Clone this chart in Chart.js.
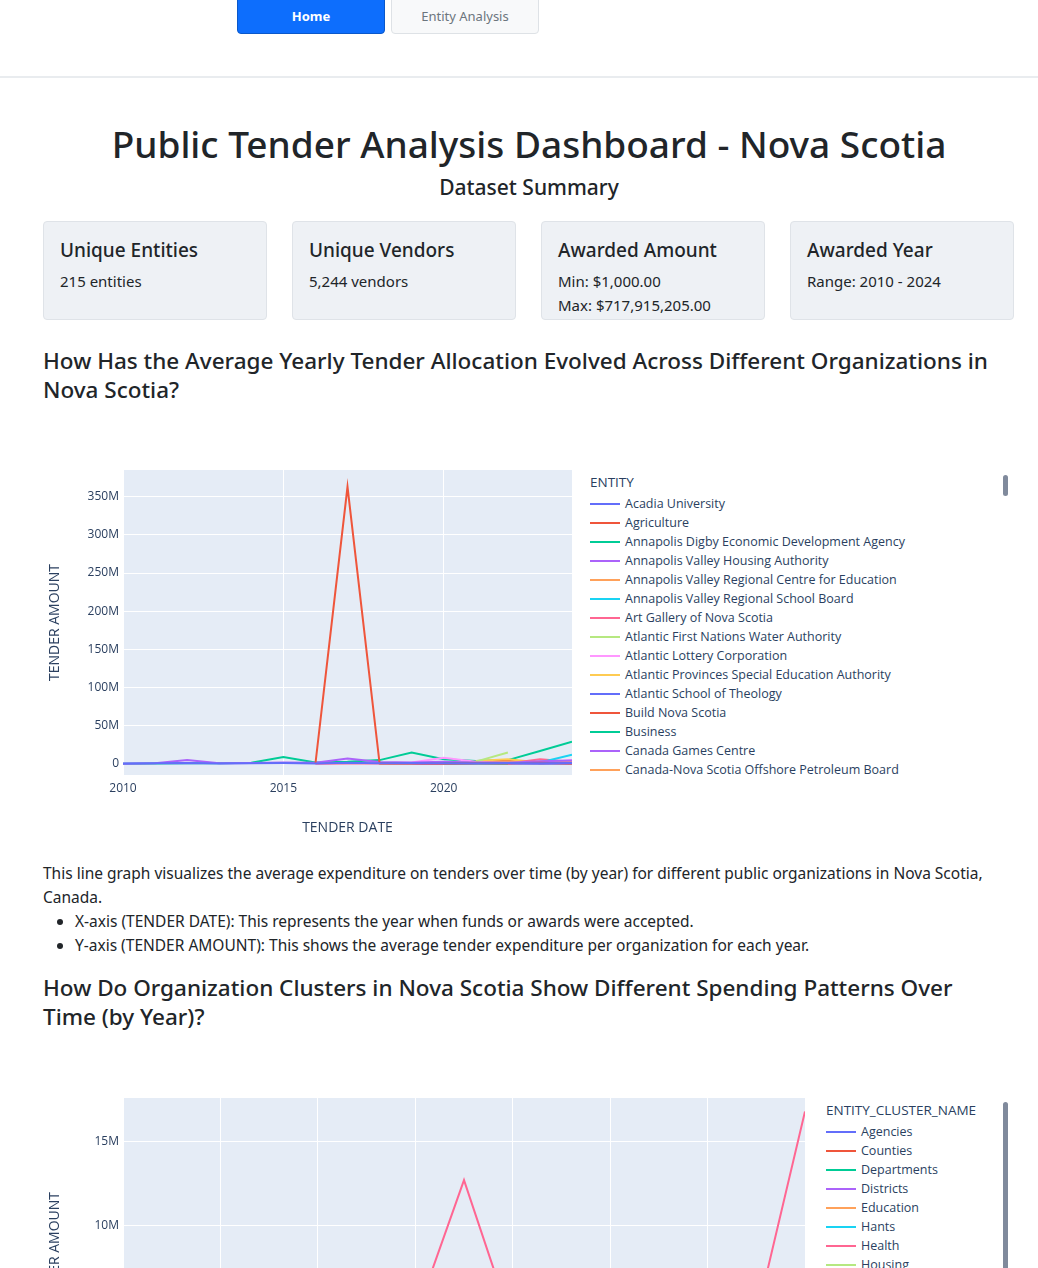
<!DOCTYPE html>
<html>
<head>
<meta charset="utf-8">
<script src="https://cdn.jsdelivr.net/npm/chart.js@4"></script>
<style>
  body { margin: 0; font-family: "Noto Sans", "Open Sans", sans-serif; color: #212529; background: #fff; width: 1038px; overflow: hidden; }
  .nav { height: 76px; border-bottom: 2px solid #e9ecef; position: relative; }
  .btn { position: absolute; top: -2px; height: 36px; width: 148px; border-radius: 0 0 4px 4px; font-size: 13px; display: flex; align-items: center; justify-content: center; box-sizing: border-box; }
  .btn.home { left: 237px; background: #0d6efd; color: #fff; font-weight: bold; border: 1px solid #0a58ca; }
  .btn.ent { left: 391px; background: #f8f9fa; color: #6c757d; border: 1px solid #dee2e6; }
  h1 { position: absolute; top: 118px; left: 0; width: 1058px; text-align: center; margin: 0; font-size: 37px; font-weight: 500; }
  .sub { position: absolute; top: 173px; left: 0; width: 1058px; text-align: center; font-size: 21px; font-weight: 500; }
  .card { position: absolute; top: 221px; width: 224px; height: 99px; background: #eef1f5; border: 1px solid #dfe3e8; border-radius: 4px; box-sizing: border-box; padding: 15px 16px; }
  .card b { display: block; font-size: 19px; font-weight: 500; margin-bottom: 6px; }
  .card div { font-size: 15px; line-height: 24px; }
  h3 { position: absolute; left: 43px; margin: 0; font-size: 22.5px; font-weight: 500; line-height: 29px; width: 950px; }
  .legend { position: absolute; font-family: "Open Sans", sans-serif; font-size: 12.5px; color: #2a3f5f; }
  .legend .t { font-size: 13.5px; margin-bottom: 3px; }
  .legend .i { height: 19px; display: flex; align-items: center; }
  .legend .i span { display: inline-block; width: 30px; height: 2px; margin-right: 5px; }
  .scroll { position: absolute; left: 1003px; width: 5px; background: #808a9c; border-radius: 3px; }
  .desc { position: absolute; top: 861px; left: 43px; width: 960px; font-size: 15.5px; line-height: 24px; }
  .desc ul { margin: 0; padding-left: 32px; }
  canvas { position: absolute; }
</style>
</head>
<body>
<div class="nav">
  <div class="btn home">Home</div>
  <div class="btn ent">Entity Analysis</div>
</div>
<h1>Public Tender Analysis Dashboard - Nova Scotia</h1>
<div class="sub">Dataset Summary</div>
<div class="card" style="left:43px"><b>Unique Entities</b><div>215 entities</div></div>
<div class="card" style="left:292px"><b>Unique Vendors</b><div>5,244 vendors</div></div>
<div class="card" style="left:541px"><b>Awarded Amount</b><div>Min: $1,000.00<br>Max: $717,915,205.00</div></div>
<div class="card" style="left:790px"><b>Awarded Year</b><div>Range: 2010 - 2024</div></div>

<h3 style="top:346px">How Has the Average Yearly Tender Allocation Evolved Across Different Organizations in Nova Scotia?</h3>
<canvas id="chart1" style="left:43px;top:440px"></canvas>
<div class="legend" id="legend1" style="left:590px;top:473px"></div>
<div class="scroll" style="top:475px;height:21px"></div>

<div class="desc">This line graph visualizes the average expenditure on tenders over time (by year) for different public organizations in Nova Scotia, Canada.
<ul>
  <li>X-axis (TENDER DATE): This represents the year when funds or awards were accepted.</li>
  <li>Y-axis (TENDER AMOUNT): This shows the average tender expenditure per organization for each year.</li>
</ul></div>

<h3 style="top:973px">How Do Organization Clusters in Nova Scotia Show Different Spending Patterns Over Time (by Year)?</h3>
<canvas id="chart2" style="left:43px;top:1068px"></canvas>
<div class="legend" id="legend2" style="left:826px;top:1101px"></div>
<div class="scroll" style="top:1102px;height:170px"></div>

<script>
const COLORS = ["#636efa", "#EF553B", "#00cc96", "#ab63fa", "#FFA15A", "#19d3f3", "#FF6692", "#B6E880", "#FF97FF", "#FECB52"];

const years = [2010, 2011, 2012, 2013, 2014, 2015, 2016, 2017, 2018, 2019, 2020, 2021, 2022, 2023, 2024];

const entities = [
    "Acadia University", "Agriculture", "Annapolis Digby Economic Development Agency",
    "Annapolis Valley Housing Authority", "Annapolis Valley Regional Centre for Education",
    "Annapolis Valley Regional School Board", "Art Gallery of Nova Scotia",
    "Atlantic First Nations Water Authority", "Atlantic Lottery Corporation",
    "Atlantic Provinces Special Education Authority", "Atlantic School of Theology",
    "Build Nova Scotia", "Business", "Canada Games Centre", "Canada-Nova Scotia Offshore Petroleum Board"
];

// values in millions, null = no tender that year
const entityValues = [
    [0.5, 0.8, 1.2, 0.6, 0.9, 1.1, 0.7, 1.5, 0.9, 1.2, 0.8, 1.0, 1.3, 0.9, 1.1],
    [null, null, null, null, null, null, 0.5, 363, 0.8, 1.0, 0.6, 1.2, 0.9, 1.5, 0.7],
    [null, null, null, null, null, null, null, null, null, null, 1.0, 0.8, 0.5, null, null],
    [0.3, 1.0, 5.0, 0.8, 1.2, 2.0, 1.5, 7.0, 2.5, 1.8, 3.0, 2.0, 1.5, 3.5, 4.5],
    [null, null, null, null, null, null, null, null, 0.5, 1.0, 2.0, 1.5, 2.5, 3.0, 4.0],
    [null, null, null, null, null, null, null, null, null, null, null, null, null, 2.0, 12.0],
    [null, null, null, null, null, null, 0.3, 0.5, 0.4, 0.8, 0.5, 1.0, 0.7, 6.0, 3.0],
    [null, null, null, null, null, null, null, null, null, null, null, 3.0, 15.0, null, null],
    [null, null, null, null, null, null, null, null, 1.0, 2.0, 8.0, 3.0, 1.5, 2.0, 5.0],
    [null, null, null, null, null, null, null, null, null, null, null, 4.0, 6.0, 2.0, null],
    [null, null, null, null, null, null, null, null, 0.5, 0.3, 0.6, 0.4, 0.5, 0.3, 0.5],
    [null, null, null, null, null, null, null, null, 0.5, 1.0, 0.5, 0.8, 5.0, 1.0, 2.0],
    [0.2, 0.5, 0.8, 1.0, 1.5, 9.0, 2.0, 3.0, 5.0, 15.0, 6.0, 4.0, 5.0, 17.0, 29.0],
    [null, null, null, null, null, null, null, null, null, 0.5, 1.0, 0.8, 0.6, 1.2, 1.0],
    [null, null, null, null, null, null, null, null, 0.3, 0.5, 0.4, 0.6, 0.5, 0.4, 0.3]
];

const clusters = ["Agencies", "Counties", "Departments", "Districts", "Education", "Hants", "Health", "Housing"];

const clusterValues = [
    [1.2, 1.0, 1.5, 1.3, 1.8, 2.0, 1.6, 2.2, 2.5, 2.0, 2.8, 3.0, 2.6, 3.2, 3.5],
    [0.5, 0.6, 0.8, 0.7, 0.9, 1.0, 0.8, 1.1, 1.0, 1.2, 1.5, 1.3, 1.4, 1.8, 2.0],
    [2.0, 2.5, 3.0, 2.8, 3.2, 4.0, 3.5, 5.0, 4.0, 4.5, 4.2, 5.0, 4.8, 5.5, 6.0],
    [0.3, 0.4, 0.5, 0.4, 0.6, 0.5, 0.7, 0.6, 0.8, 0.7, 0.9, 0.8, 1.0, 1.1, 1.2],
    [1.5, 1.8, 2.0, 1.7, 2.2, 2.4, 2.1, 2.6, 2.8, 3.0, 2.5, 3.2, 3.4, 3.0, 3.6],
    [null, null, null, null, null, null, 0.5, 0.8, 1.0, 0.6, 0.9, 1.2, 1.0, 1.4, 1.5],
    [3.0, 2.5, 3.5, 4.0, 3.0, 5.0, 4.5, 12.7, 4.0, 5.5, 5.0, 6.0, 5.5, 4.5, 16.8],
    [0.8, 0.9, 1.0, 1.2, 1.1, 1.3, 1.0, 1.5, 1.4, 1.6, 1.8, 1.7, 2.0, 2.2, 2.5]
];

const plotBg = {
    id: "plotBg",
    beforeDraw(chart) {
        const { ctx, chartArea: a } = chart;
        ctx.save();
        ctx.fillStyle = "#e5ecf6";
        ctx.fillRect(a.left, a.top, a.width, a.height);
        ctx.restore();
    }
};

function fmtM(v) {
    return v === 0 ? "0" : `${v / 1e6}M`;
}

function buildLegend(id, title, names) {
    const el = document.getElementById(id);
    el.innerHTML = `<div class="t">${title}</div>` + names.map((n, i) =>
        `<div class="i"><span style="background:${COLORS[i % COLORS.length]}"></span>${n}</div>`).join("");
}

function lineChart(id, width, height, names, values, opts) {
    const canvas = document.getElementById(id);
    canvas.width = width;
    canvas.height = height;

    return new Chart(canvas, {
        type: "line",
        data: {
            datasets: names.map((n, i) => ({
                label: n,
                data: years.map((y, k) => ({ x: y, y: values[i][k] == null ? null : values[i][k] * 1e6 })),
                borderColor: COLORS[i % COLORS.length],
                borderWidth: 2,
                pointRadius: 0,
                tension: 0,
                spanGaps: false,
            })),
        },
        options: {
            responsive: false,
            animation: false,
            layout: { padding: { top: opts.padTop, right: 0 } },
            plugins: { legend: { display: false }, tooltip: { enabled: false } },
            scales: {
                x: {
                    type: "linear", min: 2010, max: 2024,
                    afterFit: s => { s.height = opts.xHeight; },
                    grid: { color: "#ffffff", lineWidth: 1, drawTicks: false },
                    border: { display: false },
                    ticks: { stepSize: opts.xStep, color: "#2a3f5f", font: { family: "Open Sans", size: 12 }, padding: 6,
                             callback: v => v === 2024 ? "" : String(v) },
                    title: { display: true, text: "TENDER DATE", color: "#2a3f5f", font: { family: "Open Sans", size: 14 }, padding: { top: 8 } },
                },
                y: {
                    min: opts.yMin, max: opts.yMax,
                    afterFit: s => { s.width = 80; },
                    afterBuildTicks: s => { s.ticks = opts.yTicks.map(v => ({ value: v })); },
                    grid: { color: "#ffffff", lineWidth: 1, drawTicks: false },
                    border: { display: false },
                    ticks: { color: "#2a3f5f", font: { family: "Open Sans", size: 12 }, padding: 4, callback: fmtM },
                    title: { display: true, text: "TENDER AMOUNT", color: "#2a3f5f", font: { family: "Open Sans", size: 14 }, padding: { bottom: 16 } },
                },
            },
        },
        plugins: [plotBg],
    });
}

buildLegend("legend1", "ENTITY", entities);
buildLegend("legend2", "ENTITY_CLUSTER_NAME", clusters);

lineChart("chart1", 535, 400, entities, entityValues, {
    padTop: 30, xHeight: 65, xStep: 5,
    yMin: -14.5e6, yMax: 385e6,
    yTicks: [0, 50e6, 100e6, 150e6, 200e6, 250e6, 300e6, 350e6],
});

lineChart("chart2", 768, 400, clusters, clusterValues, {
    padTop: 30, xHeight: 65, xStep: 2,
    yMin: -0.6e6, yMax: 17.6e6,
    yTicks: [0, 5e6, 10e6, 15e6],
});
</script>
</body>
</html>
